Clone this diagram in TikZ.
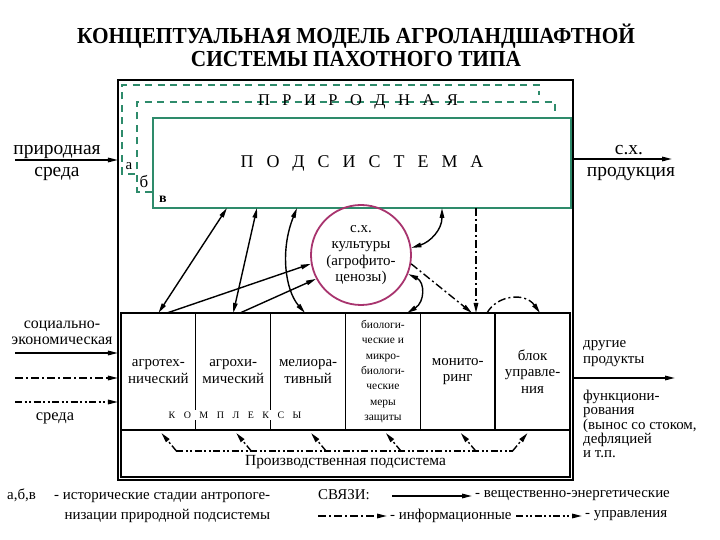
\documentclass[tikz,border=0pt]{standalone}
\usepackage{fontspec}
\setmainfont{Liberation Serif}
\usetikzlibrary{arrows.meta,positioning,calc}

\definecolor{natgreen}{HTML}{2E8B6B}
\definecolor{cultrose}{HTML}{A8346E}

\tikzset{
  lbl/.style={font=\fontsize{15}{16}\selectfont, inner sep=0pt, align=center},
  leg/.style={font=\fontsize{15}{16}\selectfont, inner sep=0pt, anchor=base west},
  big/.style={font=\fontsize{19.5}{20}\selectfont, inner sep=0pt, anchor=base},
  side/.style={font=\fontsize{15}{14.5}\selectfont, inner sep=0pt, align=left, anchor=west},
  colbox/.style={draw, line width=1.3bp, minimum width=74.83bp, minimum height=117bp, inner sep=1bp, outer sep=0pt, align=center, font=\fontsize{15}{16.5}\selectfont},
  arr/.style={-{Triangle[length=10bp,width=4.5bp]}, line width=1.4bp},
  barr/.style={{Triangle[length=10bp,width=4.5bp]}-{Triangle[length=10bp,width=4.5bp]}, line width=1.4bp},
  info/.style={line width=1.4bp, dash pattern=on 8bp off 3bp on 2bp off 3bp},
  ctrl/.style={line width=1.4bp, dash pattern=on 7bp off 2.5bp on 2bp off 2.5bp on 2bp off 2.5bp},
  iarr/.style={info, -{Triangle[length=10bp,width=4.5bp]}},
  carr/.style={ctrl, -{Triangle[length=10bp,width=4.5bp]}},
  stage/.style={natgreen, line width=1.5bp, dash pattern=on 7bp off 5.5bp},
}

\begin{document}
\begin{tikzpicture}[x=1bp,y=1bp]
\useasboundingbox (0,0) rectangle (720,540);
% title
\node[font=\bfseries\fontsize{23}{23}\selectfont, align=center] (title) at (356,495) {\scalebox{0.93}[1]{КОНЦЕПТУАЛЬНАЯ МОДЕЛЬ АГРОЛАНДШАФТНОЙ}\\\scalebox{0.93}[1]{СИСТЕМЫ ПАХОТНОГО ТИПА}};
% frame and natural subsystem
\node[draw, line width=2.2bp, minimum width=455bp, minimum height=400bp, outer sep=0pt] (outer) at (345.5,260) {};
\draw[stage] (135,366) -- (122,366) -- (122,455) -- (539,455) -- (539,445);
\draw[stage] (152,348) -- (137,348) -- (137,438) -- (555,438) -- (555,428);
\node[font=\fontsize{16.5}{18}\selectfont, inner sep=0pt] (natname) at (358,438) {\spaceskip=12.5bp\relax П Р И Р О Д Н А Я};
\node[draw=natgreen, line width=1.5bp, minimum width=418bp, minimum height=90bp, outer sep=0pt, font=\fontsize{18}{20}\selectfont] (nat) at (362,377) {\spaceskip=13bp\relax П О Д С И С Т Е М А};
\node[lbl, font=\fontsize{15}{16}\selectfont] (sta) at (129,374) {а};
\node[lbl, font=\fontsize{17}{18}\selectfont] (stb) at (144,358) {б};
\node[lbl, font=\bfseries\fontsize{14}{14}\selectfont] (stv) at (163,341) {в};
% crops
\node[circle, draw=cultrose, line width=1.8bp, minimum size=100bp, inner sep=0pt, align=center, font=\fontsize{15}{16.5}\selectfont] (cult) at (361,285) {с.х.\\культуры\\(агрофито-\\ценозы)};
% complexes
\node[colbox] (col1) at (158.4,168.5) {агротех-\\нический};
\node[colbox, right=0pt of col1] (col2) {агрохи-\\мический};
\node[colbox, right=0pt of col2] (col3) {мелиора-\\тивный};
\node[colbox, right=0pt of col3, font=\fontsize{11.5}{15.4}\selectfont] (col4) {биологи-\\ческие и\\микро-\\биологи-\\ческие\\меры\\защиты};
\node[colbox, right=0pt of col4] (col5) {монито-\\ринг};
\node[colbox, right=0pt of col5] (col6) {блок\\управле-\\ния};
\node[fill=white, inner xsep=1bp, inner ysep=2bp, font=\fontsize{10}{12}\selectfont] (kompl) at (235,125) {\spaceskip=8.5bp\relax К О М П Л Е К С Ы};
\node[draw, line width=1.3bp, minimum width=449bp, minimum height=47bp, outer sep=0pt, anchor=north west] (prod) at (col1.south west) {};
\node[lbl, font=\fontsize{15.5}{16}\selectfont] (prodtxt) at (345.5,78) {Производственная подсистема};
% inputs and outputs
\coordinate (natsrc) at (15,380);
\draw[arr] (natsrc) -- (natsrc -| outer.west);
\node[big] (natsrca) at (57,385) {природная};
\node[big] (natsrcb) at (57,363) {среда};
\coordinate (cropout) at (672,381);
\draw[arr] (cropout -| outer.east) -- (cropout);
\node[big] (cropouta) at (629,385) {с.х.};
\node[big] (cropoutb) at (631,363) {продукция};
\coordinate (socin) at (15,187);
\coordinate (infoin) at (15,162);
\coordinate (ctrlin) at (15,138);
\draw[arr] (socin) -- (socin -| outer.west);
\draw[iarr] (infoin) -- (infoin -| outer.west);
\draw[carr] (ctrlin) -- (ctrlin -| outer.west);
\node[lbl, font=\fontsize{16}{16}\selectfont] (socinl) at (62,207) {социально-\\экономическая};
\node[lbl, font=\fontsize{16.5}{16}\selectfont] (ctrlinl) at (55,122) {среда};
\coordinate (otherout) at (675,162);
\draw[arr] (otherout -| outer.east) -- (otherout);
\node[side, font=\fontsize{15}{16}\selectfont] (otherl) at (583,186) {другие\\продукты};
\node[side] (funcl) at (583,116) {функциони-\\рования\\(вынос со стоком,\\дефляцией\\и т.п.};
% links
\draw[barr] (nat.south -| 227,0) -- (col1.north);
\draw[barr] (nat.south -| 257,0) -- (col2.north);
\draw[barr] (nat.south -| 297,0) .. controls (280,290) and (285,250) .. (col3.north -| 305,0);
\draw[arr] (col1.north -| 167,0) -- (cult.190);
\draw[arr] (col2.north -| 240,0) -- (cult.208);
\draw[barr] (cult.8) .. controls (430,298) and (442,310) .. (nat.south -| 442,0);
\draw[barr] (cult.-22) .. controls (425,258) and (425,238) .. (col4.north -| 407,0);
\draw[iarr] (cult.-10) -- (col5.north -| 472,0);
\draw[iarr] (nat.south -| 476,0) -- (col5.north -| 476,0);
\draw[iarr] (col5.north -| 487,0) .. controls (497,245) and (525,248) .. (col6.north -| 540,0);
\draw[ctrl] ($(col1.south)+(18,-21)$) -- ($(col6.south)+(-20,-21)$);
\foreach \c in {1,...,5} \draw[carr] ($(col\c.south)+(18,-21)$) -- ($(col\c.south)+(3,-3)$);
\draw[carr] ($(col6.south)+(-20,-21)$) -- ($(col6.south)+(-5,-3)$);
% legend
\node[leg] (legabc) at (7,40) {а,б,в};
\node[leg] (legst) at (54,40) {- исторические стадии антропоге-};
\node[leg, anchor=base east] (legst2) at (legst.base east |- 0,20) {низации природной подсистемы};
\node[leg] (legsv) at (318,40) {СВЯЗИ:};
\coordinate (lega) at (392,44);
\node[leg, anchor=west, inner xsep=3bp] (legmat) at (472,44) {- вещественно-энергетические};
\draw[arr] (lega) -- (legmat.west);
\coordinate (legb) at (318,24);
\node[leg, anchor=west, inner xsep=3bp] (leginf) at (387,24) {- информационные};
\draw[iarr] (legb) -- (leginf.west);
\coordinate (legc) at (516,24);
\node[leg, anchor=west, inner xsep=3bp] (legctl) at (582,24) {- управления};
\draw[carr] (legc) -- (legctl.west);
\end{tikzpicture}
\end{document}
